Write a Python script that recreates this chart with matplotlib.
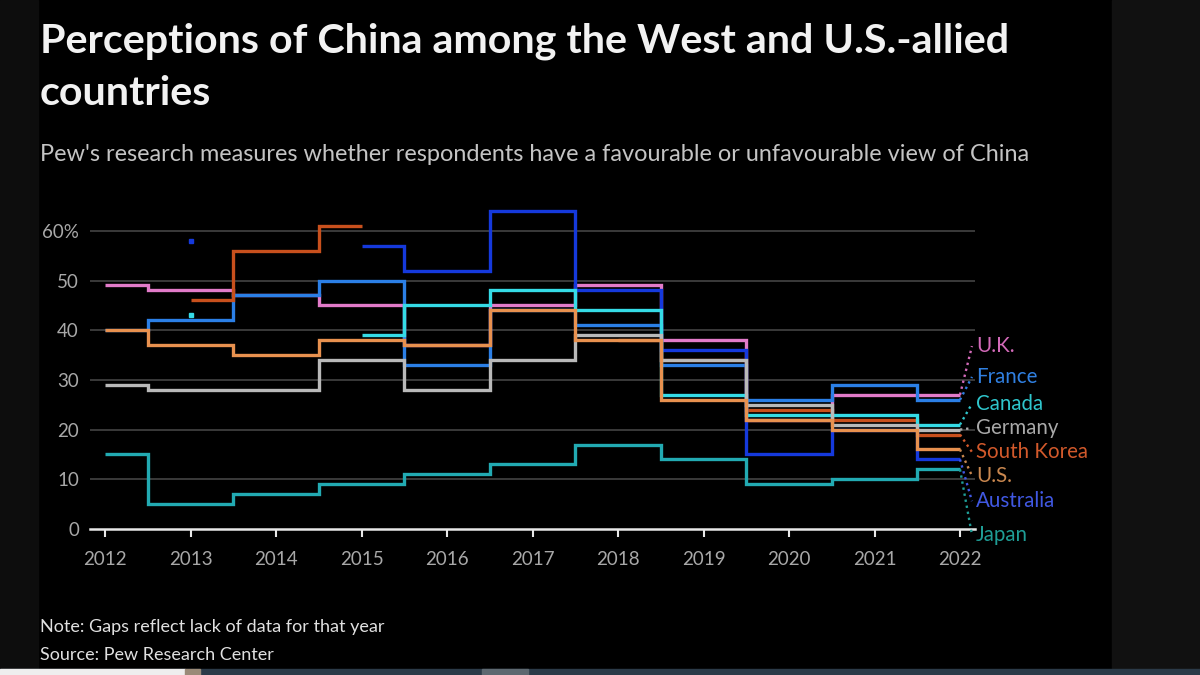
import numpy as np
import matplotlib
matplotlib.use("Agg")
import matplotlib.pyplot as plt
from matplotlib.patches import Rectangle

nan = np.nan
years = [2012, 2013, 2014, 2015, 2016, 2017, 2018, 2019, 2020, 2021, 2022]

uk          = [49, 48, 47, 45, 37, 45, 49, 38, 22, 27, 27]
france      = [40, 42, 47, 50, 33, 44, 41, 33, 26, 29, 26]
south_korea = [nan, 46, 56, 61, nan, nan, 38, 34, 24, 22, 19]
australia   = [nan, 58, nan, 57, 52, 64, 48, 36, 15, 20, 14]
canada      = [nan, 43, nan, 39, 45, 48, 44, 27, 23, 23, 21]
germany     = [29, 28, 28, 34, 28, 34, 39, 34, 25, 21, 20]
us          = [40, 37, 35, 38, 37, 44, 38, 26, 22, 20, 16]
japan       = [15, 5, 7, 9, 11, 13, 17, 14, 9, 10, 12]

yticks = [0, 10, 20, 30, 40, 50, 60]
ytick_labels = ["0", "10", "20", "30", "40", "50", "60%"]

# draw order: name, values, line colour, label colour, label position (data units)
series = [
    ("U.K.", uk, "#e27bc9", "#d36ab9", 36.8),
    ("France", france, "#2b7fe6", "#3080e2", 30.6),
    ("South Korea", south_korea, "#c8501d", "#d2592b", 15.5),
    ("Australia", australia, "#1539dc", "#4058e2", 5.6),
    ("Canada", canada, "#35dbe6", "#2fc6cc", 25.2),
    ("Germany", germany, "#b9b9b9", "#a9a9a9", 20.3),
    ("U.S.", us, "#e8914f", "#c9874f", 10.7),
    ("Japan", japan, "#22aab2", "#1f9d96", -1.2),
]

W, H = 1200, 675
fig = plt.figure(figsize=(W / 100, H / 100), dpi=100, facecolor="black")

# screenshot surroundings
fig.patches.append(Rectangle((0, 0), 38 / W, 1, transform=fig.transFigure,
                             color="#0d0d0d", zorder=0))
fig.patches.append(Rectangle((1112 / W, 0), 88 / W, 1, transform=fig.transFigure,
                             color="#111111", zorder=0))
fig.patches.append(Rectangle((0, 0), 1, 6 / H, transform=fig.transFigure,
                             color="#2b3a48", zorder=1))
fig.patches.append(Rectangle((0, 0), 185 / W, 6 / H, transform=fig.transFigure,
                             color="#eeeeee", zorder=2))
fig.patches.append(Rectangle((185 / W, 0), 15 / W, 6 / H, transform=fig.transFigure,
                             color="#9a8a78", zorder=2))
fig.patches.append(Rectangle((482 / W, 0), 46 / W, 6 / H, transform=fig.transFigure,
                             color="#5d6870", zorder=2))

font = "Lato"

# axes placement
x0, x1 = 90, 975
y_bottom = 529
px_per_unit = 4.97
top_units = 65
ax = fig.add_axes([x0 / W, 1 - y_bottom / H, (x1 - x0) / W, top_units * px_per_unit / H])
ax.set_facecolor("none")
ax.set_xlim(2012 - 15 / 85.5, 2022 + 15 / 85.5)
ax.set_ylim(0, top_units)
for s in ax.spines.values():
    s.set_visible(False)

for v in yticks[1:]:
    ax.axhline(v, color="#4a4a4a", lw=1.1, zorder=1)
ax.axhline(0, color="#e8e8e8", lw=1.8, zorder=1, clip_on=False)

ax.set_yticks(yticks)
ax.set_yticklabels(ytick_labels)
ax.set_xticks(years)
ax.set_xticklabels([str(y) for y in years])
ax.tick_params(axis="y", length=0, pad=8, labelsize=13.5, labelcolor="#a8a8a8")
ax.tick_params(axis="x", length=6, width=1.5, color="#e8e8e8", pad=10,
               labelsize=13.5, labelcolor="#a8a8a8")
for lab in ax.get_xticklabels() + ax.get_yticklabels():
    lab.set_fontfamily(font)


def runs(xs, ys):
    cur_x, cur_y = [], []
    for x, y in zip(xs, ys):
        if np.isnan(y):
            if cur_x:
                yield cur_x, cur_y
            cur_x, cur_y = [], []
        else:
            cur_x.append(x)
            cur_y.append(y)
    if cur_x:
        yield cur_x, cur_y


for i, (name, vals, col, lcol, ly) in enumerate(series):
    for rx, ry in runs(years, vals):
        if len(rx) == 1:
            ax.plot(rx, ry, marker="s", ms=2.6, color=col, lw=0, zorder=3 + i)
        else:
            ax.step(rx, ry, where="mid", color=col, lw=2.4, zorder=3 + i,
                    solid_joinstyle="miter", solid_capstyle="butt")
    last = vals[-1]
    ax.plot([years[-1], years[-1] + 0.14], [last, ly], ls=(0, (1, 1.6)), lw=1.7,
            color=lcol, clip_on=False, zorder=20)
    ax.text(years[-1] + 0.187, ly, name, color=lcol, fontsize=14.8, family=font,
            va="center", ha="left", clip_on=False)

# titles and notes
t1 = fig.text(40 / W, 1 - 52 / H, "Perceptions of China among the West and U.S.-allied",
              color="#f2f2f2", fontsize=27, fontweight="bold", family=font, va="baseline")
t2 = fig.text(40 / W, 1 - 105 / H, "countries",
              color="#f2f2f2", fontsize=27, fontweight="bold", family=font, va="baseline")
st = fig.text(40 / W, 1 - 161 / H,
              "Pew's research measures whether respondents have a favourable or unfavourable view of China",
              color="#c4c4c4", fontsize=15, family=font, va="baseline")
n1 = fig.text(40 / W, 1 - 632 / H, "Note: Gaps reflect lack of data for that year",
              color="#e0e0e0", fontsize=12.5, family=font, va="baseline")
n2 = fig.text(40 / W, 1 - 660 / H, "Source: Pew Research Center",
              color="#e0e0e0", fontsize=12.5, family=font, va="baseline")

# fit widths to the reference
targets = [(t1, 968), (st, 995), (n1, 344), (n2, 235)]
fig.canvas.draw()
r = fig.canvas.get_renderer()
for t, wpx in targets:
    w = t.get_window_extent(r).width
    t.set_fontsize(t.get_fontsize() * wpx / w)
t2.set_fontsize(t1.get_fontsize())

fig.savefig("out.png", dpi=100, facecolor=fig.get_facecolor())
